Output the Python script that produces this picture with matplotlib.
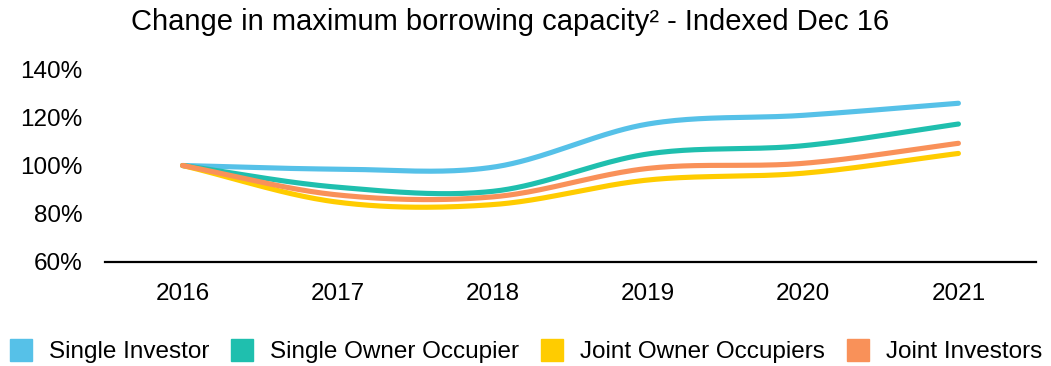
import numpy as np
import matplotlib
matplotlib.use('Agg')
import matplotlib.pyplot as plt
from matplotlib.lines import Line2D

plt.rcParams['font.family'] = ['Liberation Sans', 'DejaVu Sans']

# data
years = ['2016', '2017', '2018', '2019', '2020', '2021']
single_investor = [100, 98.5, 99.3, 117.2, 120.8, 125.8]
single_owner_occ = [100, 91.0, 89.3, 104.8, 108.2, 117.2]
joint_owner_occ = [100, 84.8, 83.8, 94.0, 96.8, 105.0]
joint_investors = [100, 87.8, 87.0, 98.8, 100.9, 109.2]

series = [
    ('Single Investor', single_investor, '#56C1E8'),
    ('Single Owner Occupier', single_owner_occ, '#1FBFAE'),
    ('Joint Owner Occupiers', joint_owner_occ, '#FFCC00'),
    ('Joint Investors', joint_investors, '#F99159'),
]


def smooth(y, n=40):
    # catmull-rom curve through the points (like excel "smoothed line")
    y = np.asarray(y, dtype=float)
    x = np.arange(len(y), dtype=float)
    m = np.zeros_like(y)
    m[1:-1] = (y[2:] - y[:-2]) / 2
    m[0] = y[1] - y[0]
    m[-1] = y[-1] - y[-2]
    xs, ys = [], []
    for i in range(len(y) - 1):
        t = np.linspace(0, 1, n, endpoint=(i == len(y) - 2))
        h00 = 2 * t**3 - 3 * t**2 + 1
        h10 = t**3 - 2 * t**2 + t
        h01 = -2 * t**3 + 3 * t**2
        h11 = t**3 - t**2
        ys.append(h00 * y[i] + h10 * m[i] + h01 * y[i + 1] + h11 * m[i + 1])
        xs.append(x[i] + t)
    return np.concatenate(xs), np.concatenate(ys)


fig = plt.figure(figsize=(10.51, 3.66), dpi=100)
ax = fig.add_axes([105 / 1051, 104 / 366, 931 / 1051, 193 / 366])

for name, vals, col in series:
    sx, sy = smooth(vals)
    ax.plot(sx, sy, color=col, lw=3.7, solid_capstyle='round', clip_on=False)

ax.set_xlim(-0.5, len(years) - 0.5)
ax.set_ylim(60, 140)
ax.set_xticks(range(len(years)))
ax.set_xticklabels(years)
ax.set_yticks([60, 80, 100, 120, 140])
ax.set_yticklabels(['60%', '80%', '100%', '120%', '140%'])
ax.tick_params(axis='both', length=0, labelsize=17.5)
ax.tick_params(axis='y', pad=16)
ax.tick_params(axis='x', pad=15)
for s in ['top', 'right', 'left']:
    ax.spines[s].set_visible(False)
ax.spines['bottom'].set_linewidth(1.6)
ax.spines['bottom'].set_color('black')

fig.text(510 / 1051, 1 - 22 / 366, 'Change in maximum borrowing capacity² - Indexed Dec 16',
         ha='center', va='center', fontsize=21)

handles = [Line2D([], [], marker='s', ls='none', markersize=16, color=c) for _, _, c in series]
fig.legend(handles, [s[0] for s in series], loc='center', bbox_to_anchor=(0.5, 1 - 352 / 366),
           ncol=4, frameon=False, fontsize=17.5, handletextpad=0.65, columnspacing=0.85,
           handlelength=1.0, borderpad=0.2)

plt.savefig('out.png', dpi=100)
